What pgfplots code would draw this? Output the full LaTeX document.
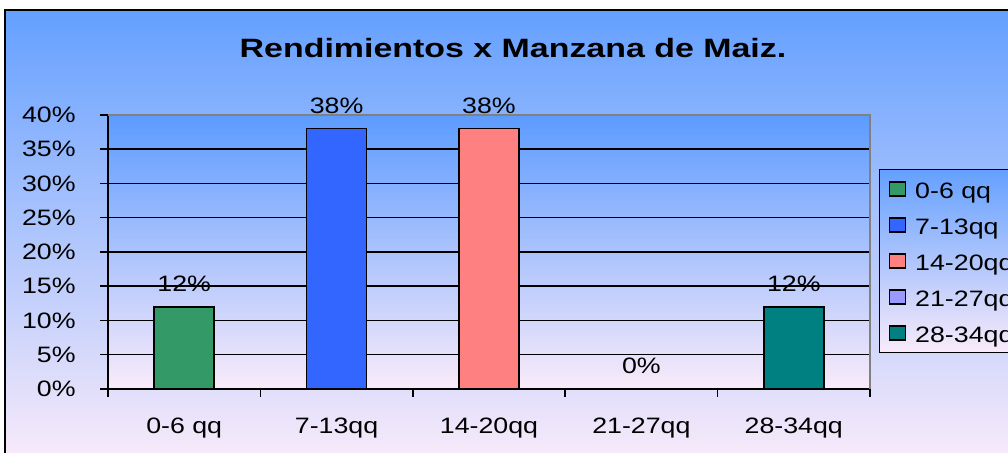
\documentclass[border=0pt]{standalone}
\usepackage{fontspec}
\setmainfont{Liberation Sans}[FakeStretch=1.2]
\newfontfamily\titlefont{Liberation Sans}[FakeStretch=1.28]
\usepackage{pgfplots}
\pgfplotsset{compat=1.18}
\definecolor{cgreen}{RGB}{51,153,102}
\definecolor{cblue}{RGB}{51,102,255}
\definecolor{cpink}{RGB}{255,128,128}
\definecolor{clav}{RGB}{153,153,255}
\definecolor{cteal}{RGB}{0,128,128}
\definecolor{bgtop}{RGB}{100,160,255}
\definecolor{bgbot}{RGB}{250,235,250}
\definecolor{pltop}{RGB}{92,155,255}
\newcommand\lblfont{\fontsize{11.15pt}{13pt}\selectfont}
\begin{document}
\begin{tikzpicture}
\useasboundingbox (0,0) rectangle (504pt,226.5pt);
\fill[white] (0,0) rectangle (504pt,226.5pt);
\shade[top color=bgtop, bottom color=bgbot] (2.25pt,-5pt) rectangle (515pt,221.25pt);
\draw[black, line width=1pt] (2.25pt,-5pt) -- (2.25pt,221.25pt) -- (515pt,221.25pt);
\node[font={\titlefont\bfseries\fontsize{13.25pt}{15pt}\selectfont}, anchor=base, inner sep=0pt] at (256.5pt,197.85pt) {Rendimientos x Manzana de Maiz.};
\begin{axis}[
  at={(54pt,32pt)}, anchor=south west, scale only axis,
  width=381pt, height=137pt,
  xmin=-0.5, xmax=4.5, ymin=0, ymax=40,
  ybar, bar width=30pt,
  axis background/.style={shade, top color=pltop, bottom color=bgbot},
  ymajorgrids, major grid style={black, line width=0.75pt},
  ytick={0,5,...,40}, yticklabels={0\%,5\%,10\%,15\%,20\%,25\%,30\%,35\%,40\%},
  xtick={-0.5,0.5,...,4.5}, xticklabels={},
  extra x ticks={0,...,4}, extra x tick labels={0-6 qq,7-13qq,14-20qq,21-27qq,28-34qq},
  extra x tick style={major tick length=0pt},
  tick align=outside, tick pos=left,
  major tick length=4pt,
  tick style={black, line width=0.75pt},
  axis line style={black, line width=0.75pt},
  ticklabel style={font=\lblfont},
  yticklabel style={anchor=east, inner sep=0pt, xshift=-12pt},
  xticklabel style={anchor=base, inner sep=0pt, yshift=-22.5pt},
  nodes near coords={\pgfmathprintnumber[assume math mode=true]{\pgfplotspointmeta}\%},
  nodes near coords style={font=\lblfont, anchor=base, inner sep=0pt, yshift=7.5pt},
  legend image code/.code={\draw[#1] (0pt,-3.5pt) rectangle (8pt,3.5pt);},
  legend style={at={(axis description cs:1.0118,0.8029)}, anchor=north west,
    draw=black, line width=0.75pt, top color=bgtop, bottom color=bgbot,
    font=\lblfont, row sep=7.5pt, inner sep=4.5pt,
    nodes={inner sep=0pt, text height=10pt, text depth=0.5pt},
    /tikz/every odd column/.append style={column sep=4.5pt}},
  legend cell align=left,
]
\addplot[fill=cgreen, draw=black, line width=0.75pt, bar shift=0pt] coordinates {(0,12)};
\addplot[fill=cblue, draw=black, line width=0.75pt, bar shift=0pt] coordinates {(1,38)};
\addplot[fill=cpink, draw=black, line width=0.75pt, bar shift=0pt] coordinates {(2,38)};
\addplot[fill=clav, draw=black, line width=0.75pt, bar shift=0pt] coordinates {(3,0)};
\addplot[fill=cteal, draw=black, line width=0.75pt, bar shift=0pt] coordinates {(4,12)};
\legend{0-6 qq,7-13qq,14-20qq,21-27qq,28-34qq}
\end{axis}
\draw[gray, line width=1pt] (54pt,169pt) -- (435pt,169pt) -- (435pt,32pt);
\end{tikzpicture}
\end{document}
